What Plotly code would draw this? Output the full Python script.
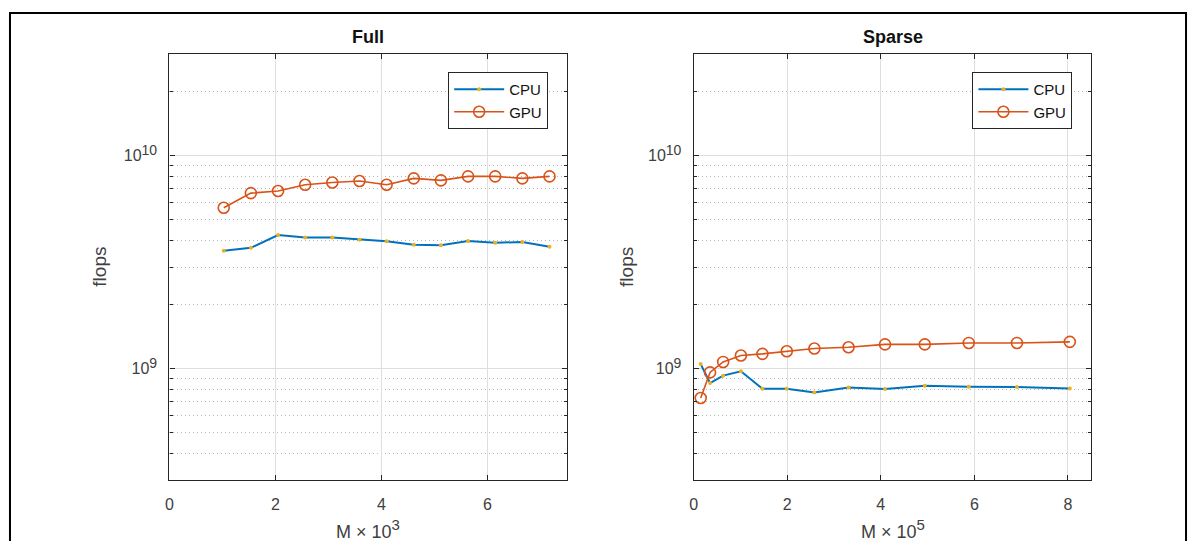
import plotly.graph_objects as go

# ---------------- data ----------------
full_m = [1.024, 1.536, 2.048, 2.56, 3.072, 3.584, 4.096, 4.608, 5.12, 5.632, 6.144, 6.656, 7.168]
full_cpu = [3.58e9, 3.69e9, 4.24e9, 4.13e9, 4.13e9, 4.03e9, 3.96e9, 3.82e9, 3.80e9, 3.97e9, 3.90e9, 3.93e9, 3.73e9]
full_gpu = [5.69e9, 6.67e9, 6.82e9, 7.30e9, 7.48e9, 7.60e9, 7.30e9, 7.82e9, 7.65e9, 7.99e9, 7.99e9, 7.82e9, 7.99e9]

sparse_m = [0.15, 0.35, 0.63, 1.01, 1.47, 1.99, 2.58, 3.31, 4.09, 4.94, 5.88, 6.91, 8.04]
sparse_cpu = [1.05e9, 8.56e8, 9.27e8, 9.71e8, 8.04e8, 8.04e8, 7.73e8, 8.16e8, 8.02e8, 8.31e8, 8.22e8, 8.20e8, 8.07e8]
sparse_gpu = [7.28e8, 9.60e8, 1.075e9, 1.152e9, 1.173e9, 1.207e9, 1.243e9, 1.26e9, 1.30e9, 1.30e9, 1.32e9, 1.32e9, 1.336e9]

titles = ["Full", "Sparse"]
xlabels = ["M \u00d7 10<sup><span style='font-size:15px'>3</span></sup>",
           "M \u00d7 10<sup><span style='font-size:15px'>5</span></sup>"]
ylabel = "flops"
ytick_vals = [1e9, 1e10]
ytick_text = ["10<sup><span style='font-size:14px'>9</span></sup>",
              "10<sup><span style='font-size:14px'>10</span></sup>"]
minor_vals = [4e8, 5e8, 6e8, 7e8, 8e8, 9e8, 2e9, 3e9, 4e9, 5e9, 6e9, 7e9, 8e9, 9e9, 2e10]

# ---------------- styling ----------------
W, H = 1192, 541
BLUE = "#0072BD"
ORANGE = "#D95319"
DOT = "#EDB120"
AX = "#262626"
FONT = "Liberation Sans, Arial, sans-serif"

def px(x):
    return x / W

def py(y):
    return (H - y) / H

fig = go.Figure()

panels = [
    (full_m, full_cpu, full_gpu, "x", "y", "legend"),
    (sparse_m, sparse_cpu, sparse_gpu, "x2", "y2", "legend2"),
]
for m, cpu, gpu, xa, ya, lg in panels:
    fig.add_trace(go.Scatter(x=m, y=cpu, name="CPU", mode="lines+markers",
                             line=dict(color=BLUE, width=2),
                             marker=dict(color=DOT, size=4, symbol="circle"),
                             xaxis=xa, yaxis=ya, legend=lg))
    fig.add_trace(go.Scatter(x=m, y=gpu, name="GPU", mode="lines+markers",
                             line=dict(color=ORANGE, width=1.6),
                             marker=dict(color=ORANGE, size=11, symbol="circle-open",
                                         line=dict(width=1.6, color=ORANGE)),
                             xaxis=xa, yaxis=ya, legend=lg))

x_domains = [[px(166), px(565)], [px(692), px(1091)]]
y_domain = [py(480), py(54)]

def xaxis(dom, rng, tv, anchor):
    return dict(domain=dom, range=rng, tickvals=tv, ticktext=[str(v) for v in tv],
                anchor=anchor, showline=True, linecolor=AX, linewidth=1.2,
                mirror="allticks", ticks="inside", ticklen=5, tickcolor=AX,
                showgrid=True, gridcolor="#dedede", gridwidth=1, zeroline=False,
                ticklabelstandoff=10,
                tickfont=dict(family=FONT, size=16, color="#404040"))

def yaxis(anchor):
    return dict(domain=y_domain, type="log", range=[8.4771, 10.4771],
                tickvals=ytick_vals, ticktext=ytick_text, anchor=anchor,
                showline=True, linecolor=AX, linewidth=1.2, mirror="allticks",
                ticks="inside", ticklen=5, tickcolor=AX,
                showgrid=True, gridcolor="#dedede", gridwidth=1, zeroline=False,
                ticklabelstandoff=8,
                tickfont=dict(family=FONT, size=16, color="#404040"),
                minor=dict(tickmode="array", tickvals=minor_vals, showgrid=True,
                           gridcolor="#b4b4b4", griddash="1px,3px", gridwidth=1,
                           ticks="inside", ticklen=3, tickcolor=AX))

legend_common = dict(bgcolor="white", bordercolor="#262626", borderwidth=1,
                     font=dict(family=FONT, size=15, color="#111111"),
                     xanchor="right", yanchor="top", tracegroupgap=0,
                     itemwidth=50)

annotations = []
centers = [(166 + 565) / 2, (692 + 1091) / 2]
ylabel_x = [95, 624]
for i in range(2):
    annotations.append(dict(text="<b>%s</b>" % titles[i], x=px(centers[i]), y=py(37),
                            xref="paper", yref="paper", showarrow=False,
                            xanchor="center", yanchor="middle",
                            font=dict(family=FONT, size=18, color="#111111")))
    annotations.append(dict(text=xlabels[i], x=px(centers[i]), y=py(529),
                            xref="paper", yref="paper", showarrow=False,
                            xanchor="center", yanchor="middle",
                            font=dict(family=FONT, size=18, color="#404040")))
    annotations.append(dict(text=ylabel, x=px(ylabel_x[i]), y=py(267),
                            xref="paper", yref="paper", showarrow=False, textangle=-90,
                            xanchor="center", yanchor="middle",
                            font=dict(family=FONT, size=19, color="#404040")))

fig.update_layout(
    width=W, height=H,
    margin=dict(l=0, r=0, t=0, b=0),
    paper_bgcolor="white", plot_bgcolor="white",
    xaxis=xaxis(x_domains[0], [0, 7.5], [0, 2, 4, 6], "y"),
    yaxis=yaxis("x"),
    xaxis2=xaxis(x_domains[1], [0, 8.5], [0, 2, 4, 6, 8], "y2"),
    yaxis2=yaxis("x2"),
    legend=dict(x=px(546), y=py(72), **legend_common),
    legend2=dict(x=px(1072), y=py(72), **legend_common),
    annotations=annotations,
    shapes=[dict(type="rect", xref="paper", yref="paper",
                 x0=px(6), x1=px(1186), y0=-0.05, y1=py(13),
                 line=dict(color="black", width=2), fillcolor="rgba(0,0,0,0)")],
    showlegend=True,
)

fig.write_html("out.html", config={"displayModeBar": False},
               post_script="document.body.style.margin='0';document.body.style.padding='0';")
